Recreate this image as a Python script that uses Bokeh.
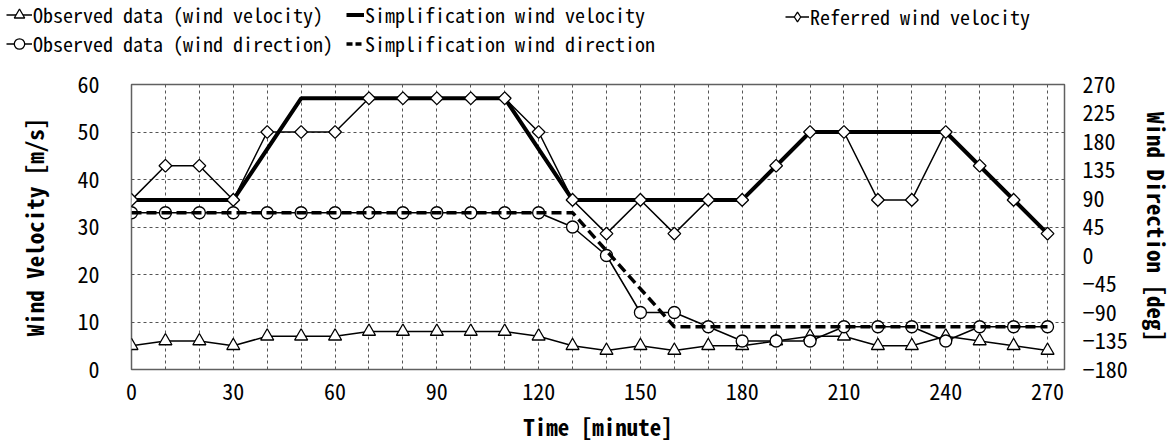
from bokeh.plotting import figure
from bokeh.layouts import column
from bokeh.models import (Range1d, LinearAxis, FixedTicker, Legend, LegendItem)
from bokeh.embed import file_html
from bokeh.resources import INLINE
import numpy as np

# ---------------- data ----------------
minutes = [0, 10, 20, 30, 40, 50, 60, 70, 80, 90, 100, 110, 120, 130,
           140, 150, 160, 170, 180, 190, 200, 210, 220, 230, 240, 250, 260, 270]

obs_velocity = [5, 6, 6, 5, 7, 7, 7, 8, 8, 8, 8, 8, 7, 5,
                4, 5, 4, 5, 5, 6, 7, 7, 5, 5, 7, 6, 5, 4]

ref_velocity = [35.7, 42.9, 42.9, 35.7, 50, 50, 50, 57.1, 57.1, 57.1, 57.1, 57.1, 50, 35.7,
                28.6, 35.7, 28.6, 35.7, 35.7, 42.9, 50, 50, 35.7, 35.7, 50, 42.9, 35.7, 28.6]

obs_direction = [67.5, 67.5, 67.5, 67.5, 67.5, 67.5, 67.5, 67.5, 67.5, 67.5, 67.5, 67.5, 67.5, 45,
                 0, -90, -90, -112.5, -135, -135, -135, -112.5, -112.5, -112.5, -135, -112.5, -112.5, -112.5]

simp_vel_minutes = [0, 30, 50, 110, 130, 180, 200, 240, 270]
simp_velocity = [35.7, 35.7, 57.1, 57.1, 35.7, 35.7, 50, 50, 28.6]

simp_dir_minutes = [0, 130, 160, 270]
simp_direction = [67.5, 67.5, -112.5, -112.5]

x_ticks = [0, 30, 60, 90, 120, 150, 180, 210, 240, 270]
grid_minutes = [10, 20, 30, 40, 50, 60, 70, 80, 90, 100, 110, 120, 130, 140, 150, 160,
                170, 180, 190, 200, 210, 220, 230, 240, 250, 260, 270]
vel_ticks = [0, 10, 20, 30, 40, 50, 60]
dir_ticks = [-180, -135, -90, -45, 0, 45, 90, 135, 180, 225, 270]

labels = ["Observed data (wind velocity)", "Simplification wind velocity",
          "Referred wind velocity", "Observed data (wind direction)",
          "Simplification wind direction"]

FONT = "Noto Sans Mono CJK JP"
LEG_H = 64

# ---------------- main chart ----------------
p = figure(width=1176, height=445 - LEG_H, output_backend="svg", toolbar_location=None,
           x_range=Range1d(0, 275), y_range=Range1d(0, 60),
           min_border_left=131, min_border_right=111, min_border_top=84 - LEG_H,
           min_border_bottom=76)
p.frame_align = False
p.extra_y_ranges = {"dir": Range1d(-180, 270)}
p.background_fill_color = "white"
p.border_fill_color = "white"
p.outline_line_color = "#606060"
p.outline_line_width = 1.5

xa = p.xaxis[0]
xa.ticker = FixedTicker(ticks=x_ticks)
xa.axis_label = "Time [minute]"
ya = p.yaxis[0]
ya.ticker = FixedTicker(ticks=vel_ticks)
ya.axis_label = "Wind Velocity [m/s]"
ra = LinearAxis(y_range_name="dir", ticker=FixedTicker(ticks=dir_ticks),
                axis_label="Wind Direction [deg]")
ra.major_label_overrides = {t: (str(t).replace("-", "\u2212")) for t in dir_ticks}
p.add_layout(ra, "right")

for ax in [xa, ya, ra]:
    ax.axis_line_color = None
    ax.major_tick_line_color = None
    ax.minor_tick_line_color = None
    ax.major_tick_out = 0
    ax.major_tick_in = 0
    ax.major_label_text_font = FONT
    ax.major_label_text_font_size = "22px"
    ax.major_label_text_color = "black"
    ax.axis_label_text_font = FONT
    ax.axis_label_text_font_size = "23px"
    ax.axis_label_text_font_style = "bold"
    ax.axis_label_text_color = "black"
xa.major_label_standoff = 14
xa.axis_label_standoff = 6
ya.major_label_standoff = 32
ya.axis_label_standoff = 23
ra.major_label_standoff = 18
ra.axis_label_standoff = 9

p.xgrid.ticker = FixedTicker(ticks=grid_minutes)
p.ygrid.ticker = FixedTicker(ticks=vel_ticks)
for g in [p.xgrid[0], p.ygrid[0]]:
    g.grid_line_color = "#555555"
    g.grid_line_dash = "3 3"
    g.grid_line_width = 1

# glyphs (drawing order = layering)
p.line(minutes, obs_velocity, line_color="black", line_width=1.5)
p.scatter(minutes, obs_velocity, marker="triangle", size=13,
          fill_color="white", line_color="black", line_width=1.3)
p.line(minutes, obs_direction, y_range_name="dir", line_color="black", line_width=1.5)
p.scatter(minutes, obs_direction, y_range_name="dir", marker="circle", size=12,
          fill_color="white", line_color="black", line_width=1.3)
p.line(simp_dir_minutes, simp_direction, y_range_name="dir", line_color="black",
       line_width=3.5, line_dash="10 5")
p.line(simp_vel_minutes, simp_velocity, line_color="black", line_width=4)
p.line(minutes, ref_velocity, line_color="black", line_width=1.5)
p.scatter(minutes, ref_velocity, marker="square", angle=np.pi / 4, size=9,
          fill_color="white", line_color="black", line_width=1.3)

# ---------------- legend strip (keys drawn out of view, shown by the legend) ----------------
lf = figure(width=1176, height=LEG_H, output_backend="svg", toolbar_location=None,
            x_range=Range1d(-2, -1), y_range=Range1d(-2, -1),
            min_border=0, x_axis_type=None, y_axis_type=None)
lf.frame_align = False
lf.outline_line_color = None
lf.grid.visible = False
lf.background_fill_color = "white"
lf.border_fill_color = "white"

k_tri_l = lf.line(minutes, obs_velocity, line_color="black", line_width=1.5)
k_tri_s = lf.scatter(minutes, obs_velocity, marker="triangle", fill_color="white",
                     line_color="black", line_width=1.3)
k_cir_l = lf.line(minutes, obs_direction, line_color="black", line_width=1.5)
k_cir_s = lf.scatter(minutes, obs_direction, marker="circle", fill_color="white",
                     line_color="black", line_width=1.3)
k_sv = lf.line(simp_vel_minutes, simp_velocity, line_color="black", line_width=4)
k_sd = lf.line(simp_dir_minutes, simp_direction, line_color="black", line_width=3.5,
               line_dash="6 3")
k_ref_l = lf.line(minutes, ref_velocity, line_color="black", line_width=1.5)
k_ref_s = lf.scatter(minutes, ref_velocity, marker="diamond", fill_color="white",
                     line_color="black", line_width=1.3)


def make_legend(items, x, y, gw):
    lg = Legend(items=items, location=(x, y), orientation="vertical",
                glyph_width=gw, glyph_height=27, label_standoff=1,
                label_text_font=FONT, label_text_font_size="20px",
                label_text_color="black",
                label_height=27, spacing=0, padding=0, margin=0,
                border_line_color=None, background_fill_alpha=0)
    lf.add_layout(lg, "center")


make_legend([LegendItem(label=labels[0], renderers=[k_tri_l, k_tri_s]),
             LegendItem(label=labels[3], renderers=[k_cir_l, k_cir_s])], 6, LEG_H - 57.5, 26)
make_legend([LegendItem(label=labels[1], renderers=[k_sv]),
             LegendItem(label=labels[4], renderers=[k_sd])], 346, LEG_H - 57.5, 18)
make_legend([LegendItem(label=labels[2], renderers=[k_ref_l, k_ref_s])], 785, LEG_H - 30.5, 24)

layout = column(lf, p, spacing=0)
open("out.html", "w").write(file_html(layout, INLINE))
